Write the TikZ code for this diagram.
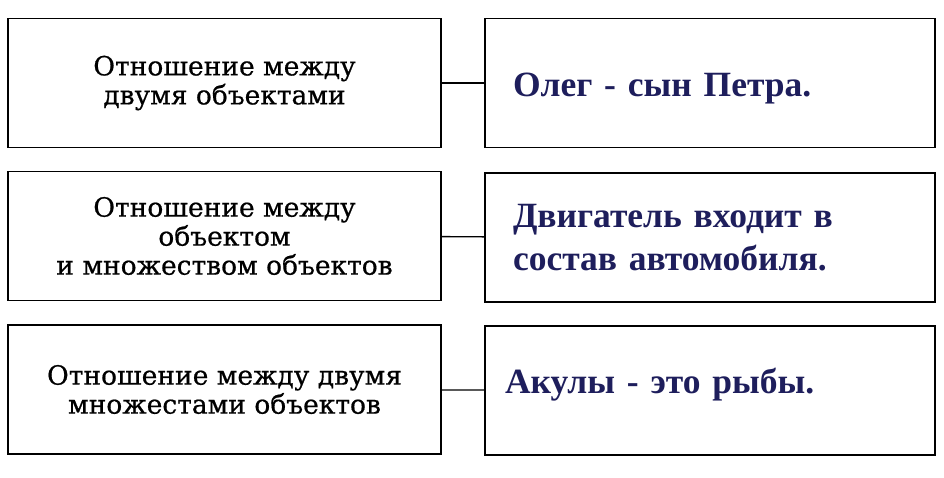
\documentclass[tikz,border=0pt]{standalone}
\usepackage{fontspec}
\setmainfont[FakeBold=0.8]{DejaVu Serif}
\newfontfamily\kindfont[FakeBold=0.6]{DejaVu Serif}
\newfontfamily\examplefont{Liberation Serif}
\definecolor{exnavy}{HTML}{1E1E5C}
\begin{document}
\begin{tikzpicture}[x=1pt, y=-1pt,
  kind/.style={draw, line width=1.6pt, minimum width=433pt, minimum height=129pt, inner sep=0pt, align=center, font=\kindfont\fontsize{26.5}{29}\selectfont},
  example/.style={draw, line width=1.6pt, minimum width=450pt, minimum height=129pt, text width=394pt, inner xsep=28pt, inner ysep=0pt, align=left, text=exnavy, font=\examplefont\bfseries\fontsize{35.5}{43}\selectfont},
  link/.style={line width=1.4pt}]
  \useasboundingbox (0,0) rectangle (944,478);
  \node[kind] (kind1) at (224.5,83) {Отношение между\\двумя объектами};
  \node[kind] (kind2) at (224.5,236) {Отношение между\\объектом\\и множеством объектов};
  \node[kind] (kind3) at (224.5,389.5) {Отношение между двумя\\множестами объектов};
  \node[example] (ex1) at (710,83) {\raisebox{-6pt}[\height][\depth]{Олег - сын Петра.}};
  \node[example] (ex2) at (710,237.5) {Двигатель входит в\\состав автомобиля.};
  \node[example, inner xsep=20pt, text width=410pt] (ex3) at (710,390.5) {\raisebox{6pt}[\height][\depth]{Акулы - это рыбы.}};
  \draw[link] (kind1) -- (ex1);
  \draw[link] (kind2) -- (ex2);
  \draw[link] (kind3) -- (ex3);
\end{tikzpicture}
\end{document}
